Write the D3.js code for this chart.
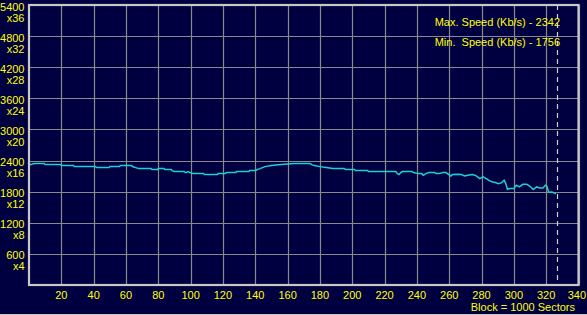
<!DOCTYPE html>
<html>
<head>
<meta charset="utf-8">
<script src="https://cdn.jsdelivr.net/npm/d3@7"></script>
<style>
  html, body { margin: 0; padding: 0; background: #000040; }
  svg { display: block; }
  text { font-family: "Liberation Sans", Arial, sans-serif; font-size: 11px; fill: #ffff00; }
</style>
</head>
<body>
<div id="chart"></div>
<script>
// DATA
// block position (x 1000 sectors) and read speed (Kb/s)
var blocks = [0, 1, 3, 9.5, 10, 19.5, 20, 27.5, 28, 41, 42, 49.5, 50, 56, 56.5, 63.5, 64, 66, 68, 75.5,
  76, 79.5, 80, 83.5, 84, 88, 88.5, 90, 96, 97, 98.5, 99.5, 101.5, 108, 108.5, 116.5, 117, 121.5, 122, 128,
  128.5, 136, 136.5, 140.5, 141, 143, 146, 150, 156, 164, 174, 175, 176.5, 180, 184, 188, 195, 196, 201.5, 202,
  209.5, 210, 227, 228, 229, 230, 231, 237, 238, 240.5, 243, 244, 245.5, 247.5, 251, 252, 254, 256, 258, 261,
  262, 265.5, 267.5, 269.5, 271.5, 274.5, 276.5, 279, 281, 283, 285, 287, 288.5, 290.5, 292.5, 294, 295, 296, 297.5, 300,
  301.5, 303.5, 305.5, 308, 310, 312, 314, 316, 318, 319.5, 320.5, 321.5, 323.5, 325, 326];
var speeds = [2342, 2322, 2342, 2342, 2322, 2322, 2303, 2303, 2284, 2284, 2264, 2264, 2284, 2284, 2303, 2303, 2284, 2264, 2245, 2245,
  2226, 2226, 2245, 2245, 2226, 2226, 2206, 2187, 2187, 2168, 2187, 2168, 2148, 2148, 2129, 2129, 2148, 2148, 2168, 2168,
  2187, 2187, 2206, 2206, 2226, 2245, 2283, 2303, 2322, 2342, 2342, 2322, 2303, 2283, 2264, 2245, 2245, 2226, 2226, 2206,
  2206, 2187, 2187, 2148, 2129, 2168, 2187, 2187, 2168, 2148, 2148, 2116, 2148, 2168, 2168, 2148, 2148, 2168, 2168, 2103,
  2129, 2135, 2129, 2103, 2116, 2129, 2110, 2052, 2084, 2052, 2007, 1988, 1975, 1955, 1975, 2020, 1955, 1846, 1859, 1859,
  1923, 1891, 1942, 1942, 1904, 1840, 1891, 1872, 1872, 1923, 1900, 1788, 1795, 1775, 1756];

var yTicks = [600, 1200, 1800, 2400, 3000, 3600, 4200, 4800, 5400];
var yMult = ["x4", "x8", "x12", "x16", "x20", "x24", "x28", "x32", "x36"];
var xTicks = [20, 40, 60, 80, 100, 120, 140, 160, 180, 200, 220, 240, 260, 280, 300, 320, 340];
var endBlock = 327;
var statLines = ["Max. Speed (Kb/s) - 2342", "Min.  Speed (Kb/s) - 1756"];
var xTitle = "Block = 1000 Sectors";

// SIZES
var w = 587, h = 315;
var pLeft = 29, pRight = 578.5, pTop = 5, pBottom = 285;

var x = d3.scaleLinear().domain([0, 340]).range([pLeft, pRight]);
var y = d3.scaleLinear().domain([0, 5400]).range([pBottom, pTop]);

var svg = d3.select("#chart")
  .append("svg")
  .attr("width", w)
  .attr("height", h);

svg.append("rect")
  .attr("width", w)
  .attr("height", h)
  .attr("fill", "#000040");

// grid
svg.append("g")
  .selectAll("line")
  .data(xTicks)
  .enter()
  .append("line")
  .attr("x1", function(d) { return Math.round(x(d)) + 0.5; })
  .attr("x2", function(d) { return Math.round(x(d)) + 0.5; })
  .attr("y1", pTop)
  .attr("y2", pBottom)
  .attr("stroke", "#8a8a8a")
  .attr("stroke-width", 1.2)
;
svg.append("g")
  .selectAll("line")
  .data(yTicks)
  .enter()
  .append("line")
  .attr("x1", pLeft)
  .attr("x2", pRight)
  .attr("y1", function(d) { return Math.round(y(d)) + 0.5; })
  .attr("y2", function(d) { return Math.round(y(d)) + 0.5; })
  .attr("stroke", "#8a8a8a")
  .attr("stroke-width", 1.2)
;

// end-of-disc marker
svg.append("line")
  .attr("x1", Math.round(x(endBlock)) + 0.5)
  .attr("x2", Math.round(x(endBlock)) + 0.5)
  .attr("y1", pTop)
  .attr("y2", pBottom)
  .attr("stroke", "#d0d0d0")
  .attr("stroke-width", 1.2)
  .attr("stroke-dasharray", "5,4")
;

// speed line
var line = d3.line()
  .x(function(d, i) { return x(blocks[i]); })
  .y(function(d) { return y(d); });

svg.append("path")
  .datum(speeds)
  .attr("d", line)
  .attr("fill", "none")
  .attr("stroke", "#19d3d3")
  .attr("stroke-width", 1.5)
;

// frame
svg.append("rect")
  .attr("x", pLeft)
  .attr("y", pTop)
  .attr("width", pRight - pLeft)
  .attr("height", pBottom - pTop)
  .attr("fill", "none")
  .attr("stroke", "#c8c8c8")
  .attr("stroke-width", 2.2)
;
svg.append("line")
  .attr("x1", 0).attr("x2", w)
  .attr("y1", 314.5).attr("y2", 314.5)
  .attr("stroke", "#c8c8c8")
;

// y labels
var yLab = svg.append("g")
  .selectAll("g")
  .data(yTicks)
  .enter()
  .append("g")
  .attr("transform", function(d) { return "translate(24.5," + y(d) + ")"; })
;
yLab.append("text")
  .attr("text-anchor", "end")
  .attr("y", 5.5)
  .text(function(d) { return d; })
;
yLab.append("text")
  .attr("text-anchor", "end")
  .attr("y", 16.5)
  .text(function(d, i) { return yMult[i]; })
;

// x labels
svg.append("g")
  .selectAll("text")
  .data(xTicks)
  .enter()
  .append("text")
  .attr("x", function(d) { return d == 340 ? w - 1 : x(d); })
  .attr("y", 299)
  .attr("text-anchor", function(d) { return d == 340 ? "end" : "middle"; })
  .text(function(d) { return d; })
;
svg.append("text")
  .attr("x", 575)
  .attr("y", 311)
  .attr("text-anchor", "end")
  .text(xTitle)
;

// stats
svg.append("g")
  .selectAll("text")
  .data(statLines)
  .enter()
  .append("text")
  .attr("x", 560)
  .attr("y", function(d, i) { return 26 + i * 20; })
  .attr("text-anchor", "end")
  .style("white-space", "pre")
  .text(function(d) { return d; })
;
</script>
</body>
</html>
